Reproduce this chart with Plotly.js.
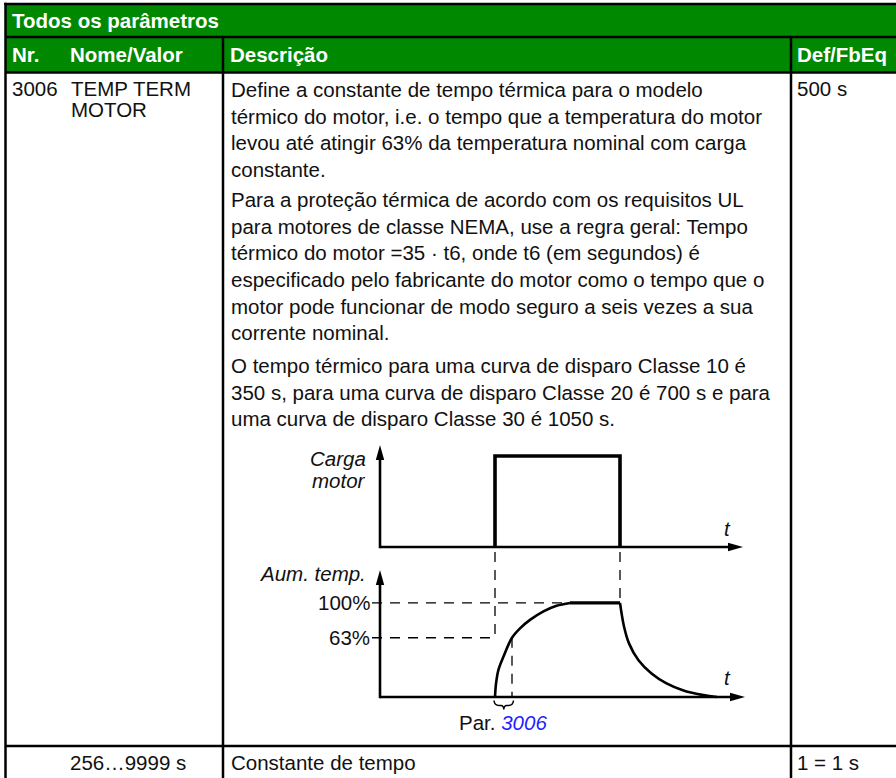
<!DOCTYPE html>
<html><head><meta charset="utf-8">
<script src="https://cdn.plot.ly/plotly-3.0.1.min.js"></script>
<style>html,body{margin:0;padding:0;background:#fff;}#chart{width:896px;height:778px;}</style>
</head><body><div id="chart"></div>
<script>
// ---------- data ----------
const tableTitle = 'Todos os parâmetros';
const headers = ['Nr.', 'Nome/Valor', 'Descrição', 'Def/FbEq'];
const paramNr = '3006';
const paramName = ['TEMP TERM', 'MOTOR'];
const paramDefault = '500 s';
const para1 = ['Define a constante de tempo térmica para o modelo',
  'térmico do motor, i.e. o tempo que a temperatura do motor',
  'levou até atingir 63% da temperatura nominal com carga',
  'constante.'];
const para2 = ['Para a proteção térmica de acordo com os requisitos UL',
  'para motores de classe NEMA, use a regra geral: Tempo',
  'térmico do motor =35 · t6, onde t6 (em segundos) é',
  'especificado pelo fabricante do motor como o tempo que o',
  'motor pode funcionar de modo seguro a seis vezes a sua',
  'corrente nominal.'];
const para3 = ['O tempo térmico para uma curva de disparo Classe 10 é',
  '350 s, para uma curva de disparo Classe 20 é 700 s e para',
  'uma curva de disparo Classe 30 é 1050 s.'];
const rangeText = '256…9999 s';
const rangeDesc = 'Constante de tempo';
const scaleText = '1 = 1 s';

// diagram series (time in arbitrary units, load 0..1, temperature rise in %)
const loadT = [0, 0, 25, 25];
const loadY = [0, 1, 1, 0];
const riseT = [0, 0.2, 0.7, 1.7, 3.4, 5, 7, 9.7, 12.3, 15];
const riseY = [0, 14, 29, 43, 63, 73, 82, 91, 97, 100];
const plateauT = [15, 25];
const plateauY = [100, 100];
const decayT = [25, 25.8, 26.8, 28.7, 31.3, 34.3, 37.7, 41.7, 44.4];
const decayY = [100, 75, 57, 39, 25, 14.5, 7, 2, 0];
const tauPar = 3.4;            // Par. 3006 time constant
const levelPct = [100, 63];
const levelLabels = ['100%', '63%'];
const loadLabel = ['Carga', 'motor'];
const tempLabel = 'Aum. temp.';

// ---------- layout helpers ----------
const W = 896, H = 778;
const X = p => p / W;
const Y = p => 1 - p / H;
const green = '#008800';
const ink = '#111111';
const FONT = 'Liberation Sans, Arial, Helvetica, sans-serif';
const FS = 20.5;
const tLeft = -24.6, tTop = 154;

const shapes = [];
function line(x0, y0, x1, y1, w, color, dash) {
  shapes.push({type: 'line', xref: 'paper', yref: 'paper', x0: X(x0), y0: Y(y0), x1: X(x1), y1: Y(y1),
    line: {color: color || '#000', width: w, dash: dash || 'solid'}});
}
function path(pts, fill, w) {
  const d = pts.map((p, i) => (i ? 'L' : 'M') + X(p[0]) + ',' + Y(p[1])).join(' ') + (fill ? ' Z' : '');
  shapes.push({type: 'path', xref: 'paper', yref: 'paper', path: d,
    fillcolor: fill || 'rgba(0,0,0,0)', line: {color: '#000', width: w || 0}});
}
// table
shapes.push({type: 'rect', xref: 'paper', yref: 'paper', x0: X(5.5), x1: X(900), y0: Y(72.5), y1: Y(4),
  fillcolor: green, line: {width: 0}});
line(4.3, 4, 900, 4, 2.5);
line(5.5, 37, 900, 37, 2.5);
line(5.5, 72.5, 900, 72.5, 2.5);
line(5.5, 746, 900, 746, 2.5);
line(5.5, 2.8, 5.5, 780, 2.5);
line(223, 37, 223, 780, 2.5);
line(791, 37, 791, 780, 2.5);
// diagram axes with arrowheads
line(380, 547, 733, 547, 2.6);
line(380, 548.2, 380, 456, 2.6);
path([[743, 547], [728, 542.8], [728, 551.2]], '#000');
path([[380, 445], [375.8, 460], [384.2, 460]], '#000');
line(380, 697, 735, 697, 2.6);
line(380, 698.2, 380, 581, 2.6);
path([[745, 697], [730, 692.8], [730, 701.2]], '#000');
path([[380, 570], [375.8, 585], [384.2, 585]], '#000');
// brace under time constant
shapes.push({type: 'path', xref: 'paper', yref: 'paper', line: {color: '#000', width: 1.5},
  path: 'M' + X(494) + ',' + Y(700.5) + ' Q' + X(494.5) + ',' + Y(705.5) + ' ' + X(499) + ',' + Y(705.5) +
    ' L' + X(501) + ',' + Y(705.5) + ' Q' + X(503.5) + ',' + Y(705.5) + ' ' + X(503.8) + ',' + Y(709.5) +
    ' Q' + X(504.1) + ',' + Y(705.5) + ' ' + X(506.6) + ',' + Y(705.5) + ' L' + X(508.6) + ',' + Y(705.5) +
    ' Q' + X(513) + ',' + Y(705.5) + ' ' + X(513.5) + ',' + Y(700.5)});

const annotations = [];
function txt(text, x, y, opts) {
  opts = opts || {};
  annotations.push(Object.assign({text: text, xref: 'paper', yref: 'paper', x: X(x), y: Y(y),
    xanchor: 'left', yanchor: 'middle', align: 'left', showarrow: false, borderpad: 0,
    font: {family: FONT, size: FS, color: ink}}, opts));
}
const white = {family: FONT, size: FS, color: '#ffffff'};
txt('<b>' + tableTitle + '</b>', 11, 20.5, {font: white});
txt('<b>' + headers[0] + '</b>', 11, 55, {font: white});
txt('<b>' + headers[1] + '</b>', 69, 55, {font: white});
txt('<b>' + headers[2] + '</b>', 229, 55, {font: white});
txt('<b>' + headers[3] + '</b>', 796, 55, {font: white});
txt(paramNr, 11, 89);
txt(paramName[0], 70, 89);
txt(paramName[1], 70, 109.5);
txt(paramDefault, 796, 89);
function para(lines, y0) {
  const step = 26.65;
  txt(lines.join('<br>'), 229.5, y0 + (lines.length - 1) * step / 2);
}
para(para1, 90);
para(para2, 199);
para(para3, 365);
txt(rangeText, 69, 762);
txt(rangeDesc, 229.5, 762);
txt(scaleText, 796, 762);
// diagram labels
txt('<i>' + loadLabel[0] + '</i>', 367, 458, {xanchor: 'right', align: 'right'});
txt('<i>' + loadLabel[1] + '</i>', 367, 480, {xanchor: 'right', align: 'right'});
txt('<i>t</i>', 727, 528, {xanchor: 'center'});
txt('<i>' + tempLabel + '</i>', 367, 573, {xanchor: 'right', align: 'right'});
txt('<i>t</i>', 727, 677, {xanchor: 'center'});
txt('Par. <span style="color:#1f1fff"><i>' + paramNr + '</i></span>', 458, 722.5);
// level labels placed on the temperature axis scale
levelPct.forEach((v, i) => {
  annotations.push({text: levelLabels[i], xref: 'paper', yref: 'y3', x: X(370.5), y: v,
    xanchor: 'right', yanchor: 'middle', align: 'right', showarrow: false, borderpad: 0,
    font: {family: FONT, size: FS, color: ink}});
});

// ---------- traces ----------
const dash = {color: '#000', width: 1.3, dash: '10px,8px'};
const traces = [
  {x: loadT, y: loadY, xaxis: 'x2', yaxis: 'y2', mode: 'lines', line: {color: '#000', width: 3.6}},
  {x: riseT, y: riseY, xaxis: 'x3', yaxis: 'y3', mode: 'lines', line: {color: '#000', width: 2.6, shape: 'spline', smoothing: 1}},
  {x: plateauT, y: plateauY, xaxis: 'x3', yaxis: 'y3', mode: 'lines', line: {color: '#000', width: 3.2}},
  {x: decayT, y: decayY, xaxis: 'x3', yaxis: 'y3', mode: 'lines', line: {color: '#000', width: 2.6, shape: 'spline', smoothing: 1}},
  {x: [tLeft, plateauT[1]], y: [levelPct[0], levelPct[0]], xaxis: 'x3', yaxis: 'y3', mode: 'lines', line: dash},
  {x: [tLeft, loadT[0]], y: [levelPct[1], levelPct[1]], xaxis: 'x3', yaxis: 'y3', mode: 'lines', line: dash},
  {x: [loadT[0], loadT[0]], y: [tTop, levelPct[1]], xaxis: 'x3', yaxis: 'y3', mode: 'lines', line: dash},
  {x: [loadT[2], loadT[2]], y: [tTop, levelPct[0]], xaxis: 'x3', yaxis: 'y3', mode: 'lines', line: dash},
  {x: [tauPar, tauPar], y: [levelPct[1], 0], xaxis: 'x3', yaxis: 'y3', mode: 'lines', line: dash}
];

const hid = {visible: false, showgrid: false, zeroline: false, fixedrange: true};
const layout = {
  width: W, height: H, margin: {l: 0, r: 0, t: 0, b: 0},
  paper_bgcolor: '#ffffff', plot_bgcolor: 'rgba(0,0,0,0)', showlegend: false,
  xaxis2: Object.assign({domain: [X(370), X(750)], range: [-25, 51], anchor: 'y2'}, hid),
  yaxis2: Object.assign({domain: [Y(552), Y(440)], range: [-0.055, 1.176], anchor: 'x2'}, hid),
  xaxis3: Object.assign({domain: [X(370), X(750)], range: [-25, 51], anchor: 'y3'}, hid),
  yaxis3: Object.assign({domain: [Y(702), Y(552)], range: [-5.3, 154.1], anchor: 'x3'}, hid),
  shapes: shapes, annotations: annotations
};
Plotly.newPlot('chart', traces, layout, {staticPlot: true, displayModeBar: false});
</script>
</body></html>
